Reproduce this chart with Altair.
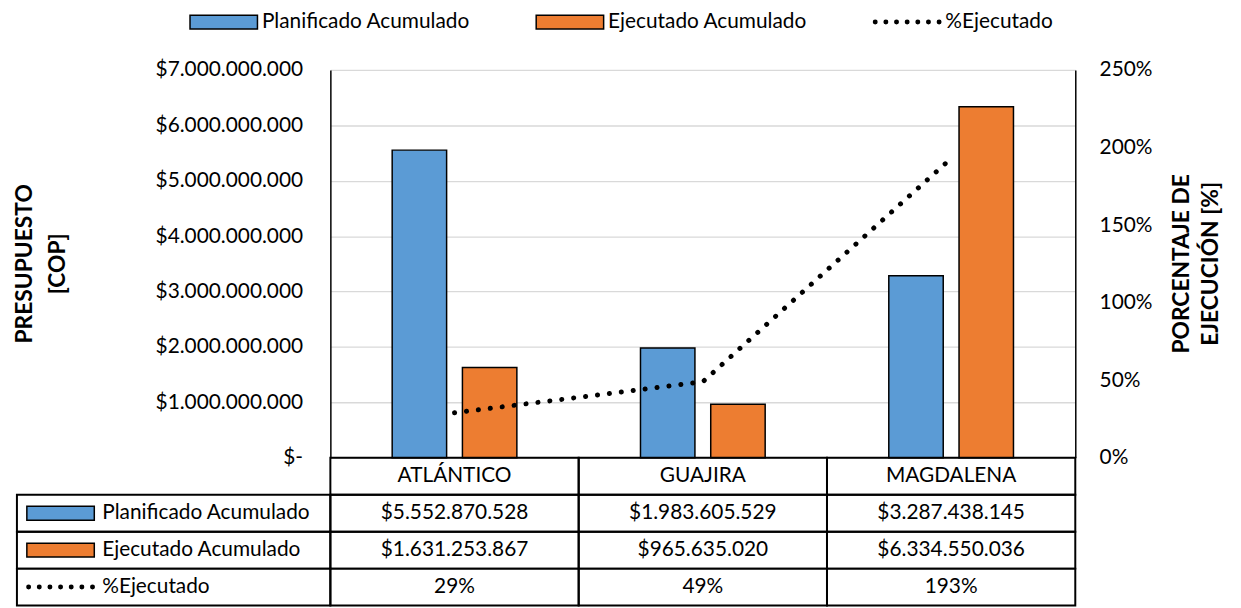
import altair as alt
import pandas as pd

# ---------------- data ----------------
categories = ["ATLÁNTICO", "GUAJIRA", "MAGDALENA"]
planificado = [5552870528, 1983605529, 3287438145]
ejecutado = [1631253867, 965635020, 6334550036]
pct_ejecutado = [0.29, 0.49, 1.93]
series = ["Planificado Acumulado", "Ejecutado Acumulado", "%Ejecutado"]
left_ticks = [0, 1e9, 2e9, 3e9, 4e9, 5e9, 6e9, 7e9]
right_ticks = [0, 0.5, 1.0, 1.5, 2.0, 2.5]
title_left = ["PRESUPUESTO", "[COP]"]
title_right = ["PORCENTAJE DE", "EJECUCIÓN [%]"]

# ---------------- styles ----------------
FONT = "Lato"
FS = 21
TFS = 23
colors = ["#5B9BD5", "#ED7D31", "#000000"]
outline = ["#000000", "#000000", "#000000"]


def money(v):
    return "$" + f"{v:,}".replace(",", ".")


def pct(v):
    return f"{round(v * 100)}%"


def dots_path(n=7, half=4.6, r=0.25):
    parts = []
    for i in range(n):
        cx = -half + i * 2 * half / (n - 1)
        parts.append(
            f"M{cx - r:.3f},0A{r},{r},0,1,0,{cx + r:.3f},0A{r},{r},0,1,0,{cx - r:.3f},0Z"
        )
    return "".join(parts)


rect_path = "M-4.857,-1H4.857V1H-4.857Z"
shapes = [rect_path, rect_path, dots_path()]

bars_df = pd.DataFrame({
    "cat": categories * 2,
    "serie": [series[0]] * 3 + [series[1]] * 3,
    "value": planificado + ejecutado,
})
line_df = pd.DataFrame({"cat": categories, "pct": pct_ejecutado})

rows = ["cat_row"] + series
table_records = []
for i, c in enumerate(categories):
    table_records.append({"cat": c, "row": "cat_row", "label": c})
    table_records.append({"cat": c, "row": series[0], "label": money(planificado[i])})
    table_records.append({"cat": c, "row": series[1], "label": money(ejecutado[i])})
    table_records.append({"cat": c, "row": series[2], "label": pct(pct_ejecutado[i])})
table_df = pd.DataFrame(table_records)
header_df = pd.DataFrame({"row": series, "serie": series})

# ---------------- top chart ----------------
x_scale = alt.Scale(domain=categories, paddingInner=0, paddingOuter=0)
xs = alt.X("cat:N", sort=categories, scale=x_scale, axis=None)

bars = alt.Chart(bars_df).mark_bar(stroke="black", strokeWidth=1.5).encode(
    x=xs,
    xOffset=alt.XOffset("serie:N", sort=series[:2],
                        scale=alt.Scale(domain=series[:2], paddingInner=0.225, paddingOuter=0.88)),
    y=alt.Y("value:Q", scale=alt.Scale(domain=[0, 7e9], nice=False),
            axis=alt.Axis(values=left_ticks,
                          labelExpr="datum.value == 0 ? '$-' : '$' + replace(format(datum.value, ',.0f'), /,/g, '.')",
                          grid=True, gridColor="#d9d9d9", gridWidth=1.3,
                          domain=True, domainColor="black", domainWidth=1.5,
                          ticks=False, labelPadding=28,
                          labelFont=FONT, labelFontSize=FS, labelColor="black",
                          title=title_left, titleFont=FONT, titleFontSize=TFS,
                          titleFontWeight="bold", titleColor="black",
                          titleAngle=270, titleX=-319, titleY=195,
                          titleAlign="center", titleBaseline="top", titleLineHeight=33)),
    color=alt.Color("serie:N", scale=alt.Scale(domain=series, range=colors), legend=None),
)

line = alt.Chart(line_df).mark_line(color="black", strokeWidth=5, strokeDash=[0.1, 12],
                                    strokeCap="round").encode(
    x=xs,
    y=alt.Y("pct:Q", scale=alt.Scale(domain=[0, 2.5], nice=False),
            axis=alt.Axis(orient="right", values=right_ticks, format=".0%",
                          grid=False, domain=True, domainColor="black", domainWidth=1.5,
                          ticks=False, labelPadding=24,
                          labelFont=FONT, labelFontSize=FS, labelColor="black",
                          title=title_right, titleFont=FONT, titleFontSize=TFS,
                          titleFontWeight="bold", titleColor="black",
                          titleAngle=270, titleX=96, titleY=195,
                          titleAlign="center", titleBaseline="top", titleLineHeight=29)),
)

top = alt.layer(bars, line).resolve_scale(y="independent").properties(width=751, height=391)

# ---------------- table ----------------
xt = alt.X("cat:N", sort=categories, scale=x_scale, axis=None)
ys = alt.Y("row:N", sort=rows, scale=alt.Scale(domain=rows, paddingInner=0, paddingOuter=0), axis=None)

cells = alt.Chart(table_df).mark_rect(fillOpacity=0, stroke="black", strokeWidth=2).encode(x=xt, y=ys)
cell_text = alt.Chart(table_df).mark_text(font=FONT, fontSize=FS, color="black").encode(
    x=xt, y=ys, text="label:N")

header_boxes = alt.Chart(header_df).mark_rect(fillOpacity=0, stroke="black", strokeWidth=2).encode(
    x=alt.value(-316), x2=alt.value(0), y=ys)
header_text = alt.Chart(header_df).mark_text(font=FONT, fontSize=FS, color="black", align="left").encode(
    x=alt.value(-230), y=ys, text="row:N")

leg = dict(orient="none", legendX=-118, legendY=-450, direction="horizontal", title=None,
           symbolSize=196, symbolStrokeWidth=1.5, symbolOpacity=1,
           labelFont=FONT, labelFontSize=FS, labelColor="black", labelLimit=400,
           labelOffset=28, columnPadding=63, padding=0)

header_sym = alt.Chart(header_df).mark_point(filled=True, size=196, strokeWidth=1.5, opacity=1).encode(
    x=alt.value(-272), y=ys,
    color=alt.Color("serie:N", sort=series, scale=alt.Scale(domain=series, range=colors),
                    legend=alt.Legend(**leg)),
    stroke=alt.Stroke("serie:N", sort=series, scale=alt.Scale(domain=series, range=outline),
                      legend=alt.Legend(**leg)),
    shape=alt.Shape("serie:N", sort=series, scale=alt.Scale(domain=series, range=shapes),
                    legend=alt.Legend(**leg)),
)

table = alt.layer(cells, cell_text, header_boxes, header_text, header_sym).properties(
    width=751, height=149)

chart = alt.vconcat(top, table, spacing=0, bounds="flush").resolve_scale(
    color="independent", shape="independent", stroke="independent"
).properties(
    padding={"left": 5, "top": 0, "right": 10, "bottom": 0}
).configure_view(stroke="transparent")

chart.save("out.html", embed_options={"renderer": "svg", "actions": False})
